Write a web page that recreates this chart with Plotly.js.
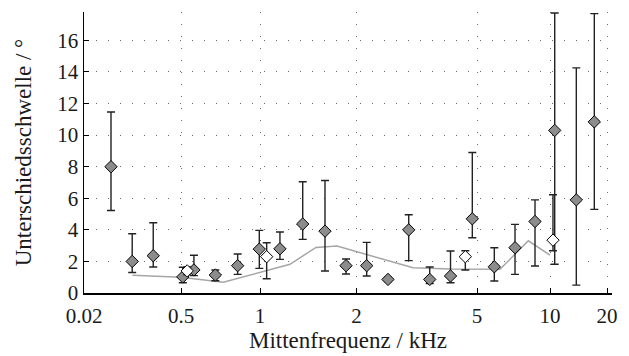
<!DOCTYPE html>
<html>
<head>
<meta charset="utf-8">
<script src="https://cdn.plot.ly/plotly-3.0.1.min.js"></script>
<style>
html,body{margin:0;padding:0;background:#fff;}
#chart{width:629px;height:356px;}
</style>
</head>
<body>
<div id="chart"></div>
<script>
// Frequency axis breakpoints (kHz) and their relative positions on the warped axis
const scaleKHz   = [0.02, 0.5, 1, 2, 5, 10, 20];
const scaleUnits = [0, 97, 176, 272.5, 393, 466, 523];
const tickLabels = ['0.02', '0.5', '1', '2', '5', '10', '20'];

// Series A (grey diamonds): centre frequency (kHz), threshold (deg), lower / upper bound
const freqA  = [0.049, 0.099, 0.199, 0.508, 0.56, 0.676, 0.822, 0.994, 1.154, 1.359, 1.595, 1.855,
                2.161, 2.541, 2.975, 3.49, 4.088, 4.825, 5.893, 7.173, 8.673, 10.59, 13.77, 17.14];
const valA   = [8.0, 2.0, 2.36, 1.02, 1.46, 1.14, 1.73, 2.78, 2.8, 4.37, 3.92, 1.73,
                1.73, 0.86, 4.0, 0.86, 1.08, 4.7, 1.66, 2.87, 4.53, 10.3, 5.9, 10.84];
const lowA   = [5.23, 1.3, 1.65, 0.65, 1.1, 0.78, 1.18, 1.56, 2.13, 3.4, 1.39, 1.2,
                1.08, 0.72, 2.05, 0.6, 0.65, 3.5, 0.76, 1.18, 1.71, 1.82, 0.5, 5.3];
const highA  = [11.47, 3.75, 4.45, 1.63, 2.39, 1.46, 2.47, 3.97, 3.86, 7.05, 7.13, 2.15,
                3.21, 1.0, 4.96, 1.65, 2.66, 8.9, 2.87, 4.35, 5.9, 17.74, 14.26, 17.7];

// Series B (white diamonds)
const freqB  = [0.528, 1.049, 4.575, 10.37];
const valB   = [1.4, 2.3, 2.3, 3.35];
const lowB   = [1.15, 0.9, 1.46, 2.68];
const highB  = [1.65, 3.18, 2.68, 6.22];

// Reference curve (grey line)
const freqC  = [0.1, 0.5, 0.725, 1.24, 1.495, 1.739, 3.073, 4.07, 6.22, 8.14, 10.0];
const valC   = [1.12, 0.99, 0.68, 1.82, 2.89, 2.97, 1.6, 1.52, 1.5, 3.31, 2.4];

function warp(f) {
  const lf = Math.log10(f);
  let i = 0;
  while (i < scaleKHz.length - 2 && f > scaleKHz[i + 1]) i++;
  const l0 = Math.log10(scaleKHz[i]), l1 = Math.log10(scaleKHz[i + 1]);
  return scaleUnits[i] + (lf - l0) / (l1 - l0) * (scaleUnits[i + 1] - scaleUnits[i]);
}

const fontFam = 'Liberation Serif';

const traces = [
  {
    x: freqC.map(warp), y: valC, type: 'scatter', mode: 'lines',
    line: {color: '#a6a6a6', width: 1.5}, hoverinfo: 'skip', showlegend: false
  },
  {
    x: freqA.map(warp), y: valA, type: 'scatter', mode: 'markers',
    marker: {symbol: 'diamond', size: 9.5, color: '#8c8c8c', line: {color: '#000', width: 1}},
    error_y: {type: 'data', symmetric: false,
      array: highA.map((h, i) => h - valA[i]),
      arrayminus: lowA.map((l, i) => valA[i] - l),
      color: '#222', thickness: 1.4, width: 4},
    showlegend: false
  },
  {
    x: freqB.map(warp), y: valB, type: 'scatter', mode: 'markers',
    marker: {symbol: 'diamond', size: 9.5, color: '#ffffff', line: {color: '#000', width: 1}},
    error_y: {type: 'data', symmetric: false,
      array: highB.map((h, i) => h - valB[i]),
      arrayminus: lowB.map((l, i) => valB[i] - l),
      color: '#222', thickness: 1.4, width: 4},
    showlegend: false
  }
];

const layout = {
  width: 629, height: 356,
  margin: {l: 84, r: 17, t: 12, b: 63},
  paper_bgcolor: '#fff', plot_bgcolor: '#fff',
  font: {family: fontFam, size: 21, color: '#1a1a1a'},
  xaxis: {
    type: 'linear', range: [0, 528],
    tickmode: 'array', tickvals: scaleKHz.map(warp), ticktext: tickLabels,
    tickfont: {family: fontFam, size: 21},
    ticks: 'inside', ticklen: 5, tickwidth: 1, tickcolor: '#000',
    ticklabelstandoff: 3,
    showline: true, linecolor: '#000', linewidth: 1.5,
    showgrid: true, gridcolor: '#6e6e6e', gridwidth: 1, griddash: '1px,11px',
    zeroline: false,
    title: {text: 'Mittenfrequenz / kHz', font: {family: fontFam, size: 23}, standoff: 5}
  },
  yaxis: {
    range: [0, 17.8], tick0: 0, dtick: 2,
    tickfont: {family: fontFam, size: 21},
    ticks: 'inside', ticklen: 5, tickwidth: 1, tickcolor: '#000',
    showline: true, linecolor: '#000', linewidth: 1.5,
    showgrid: true, gridcolor: '#6e6e6e', gridwidth: 1, griddash: '1px,11px',
    zeroline: false,
    title: {text: 'Unterschiedsschwelle / °', font: {family: fontFam, size: 23}, standoff: 19}
  },
  showlegend: false
};

Plotly.newPlot('chart', traces, layout, {displayModeBar: false, staticPlot: true});
</script>
</body>
</html>
